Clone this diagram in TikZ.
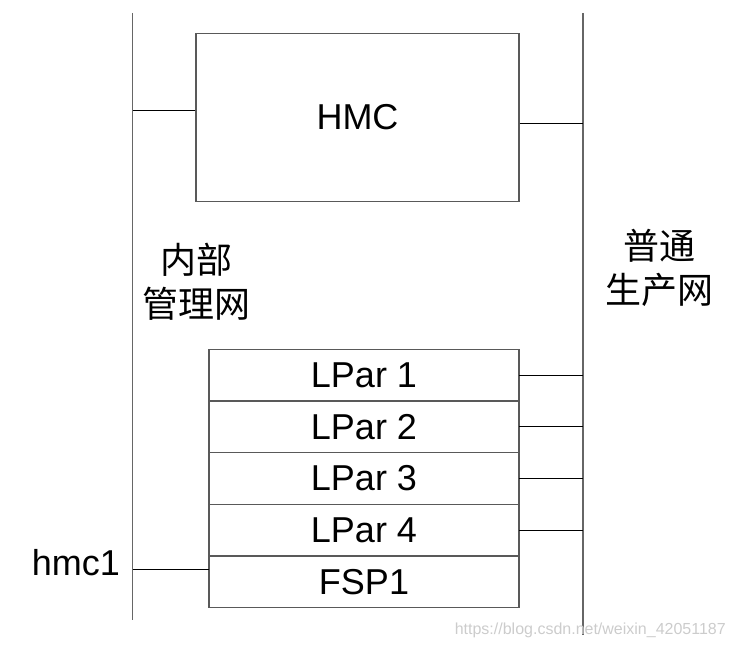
\documentclass[tikz,border=0pt]{standalone}
\usepackage{fontspec}
\setmainfont{Liberation Sans}
\newfontfamily\cjk{Noto Sans CJK SC}
\usetikzlibrary{positioning}

\begin{document}
\begin{tikzpicture}[
    x=1pt, y=-1pt,
    box/.style={rectangle, draw=black!65, line width=1.3pt, fill=white,
        minimum width=323pt, minimum height=168pt, inner sep=0pt,
        font=\fontsize{36}{40}\selectfont},
    slot/.style={rectangle, draw=black!65, line width=1.3pt, fill=white,
        minimum width=310pt, minimum height=51.7pt, inner sep=0pt,
        outer sep=0pt, font=\fontsize{36}{40}\selectfont},
    bus/.style={draw=black!60, line width=1.5pt},
    link/.style={draw=black, line width=1pt, -},
    netlabel/.style={align=center, inner sep=0pt,
        font=\cjk\fontsize{36}{44}\selectfont}
]
    \useasboundingbox (0,0) rectangle (736,647);
    % the two networks
    \coordinate (lt) at (132.5,13);
    \coordinate (lb) at (132.5,620);
    \coordinate (rt) at (583,13);
    \coordinate (rb) at (583,635);
    \draw[bus] (lt) -- (lb);
    \draw[bus] (rt) -- (rb);
    \node[netlabel] (inner) at (196,282) {内部\\管理网};
    \node[netlabel] (prod) at (659,268) {普通\\生产网};
    % HMC
    \node[box] (hmc) at (357.5,117.5) {HMC};
    \coordinate (hl) at ([yshift=6.5pt]hmc.west);
    \coordinate (hr) at ([yshift=-6.5pt]hmc.east);
    \draw[link] (hl) -- (hl -| lt);
    \draw[link] (hr) -- (hr -| rt);
    % server
    \node[slot] (lpar1) at (364,375) {LPar 1};
    \foreach \i [evaluate=\i as \j using int(\i-1)] in {2,3,4}
        \node[slot, below=0pt of lpar\j] (lpar\i) {LPar \i};
    \node[slot, below=0pt of lpar4] (fsp1) {FSP1};
    \foreach \i in {1,2,3,4}
        \draw[link] (lpar\i.east) -- (lpar\i.east -| rt);
    \coordinate (fl) at ([yshift=12.5pt]fsp1.west);
    \draw[link] (fl) -- (fl -| lt);
    \node[anchor=base east, inner sep=0pt,
        font=\fontsize{36}{40}\selectfont] (hmc1) at (120,575) {hmc1};
    \node[anchor=base east, inner sep=0pt, text=black!20,
        font=\fontsize{16}{18}\selectfont] (wm) at (726,634)
        {https://blog.csdn.net/weixin\_42051187};
\end{tikzpicture}
\end{document}
